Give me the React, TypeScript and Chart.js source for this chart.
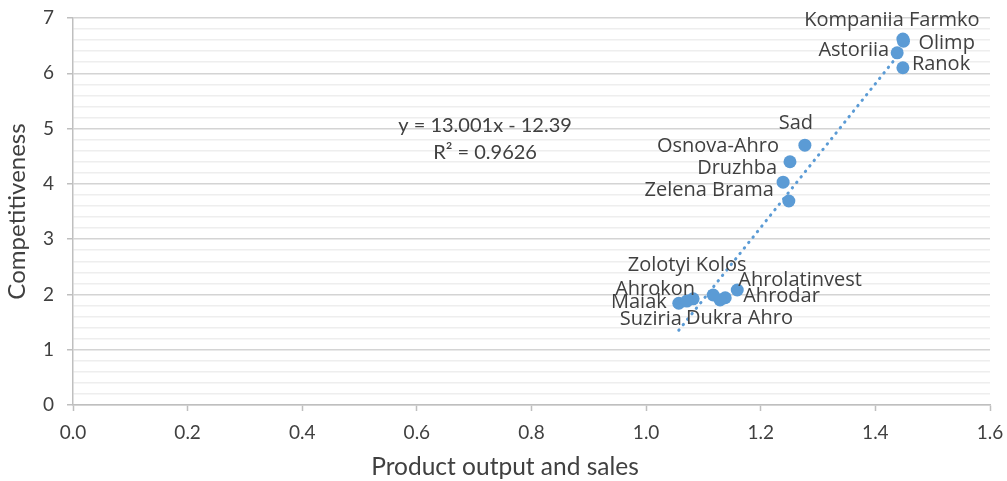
import React, { useEffect, useRef } from "react";
import { Chart, registerables } from "chart.js";

Chart.register(...registerables);

// ---------- data ----------
const companies = [
  "Kompaniia Farmko",
  "Olimp",
  "Astoriia",
  "Ranok",
  "Sad",
  "Osnova-Ahro",
  "Druzhba",
  "Zelena Brama",
  "Zolotyi Kolos",
  "Ahrolatinvest",
  "Ahrokon",
  "Ahrodar",
  "Maiak",
  "Dukra Ahro",
  "Suziria",
];
const outputSales = [1.448, 1.449, 1.438, 1.448, 1.277, 1.251, 1.239, 1.249, 1.117, 1.159, 1.082, 1.138, 1.057, 1.129, 1.071];
const competitiveness = [6.62, 6.58, 6.37, 6.1, 4.7, 4.4, 4.03, 3.69, 1.99, 2.08, 1.92, 1.94, 1.84, 1.9, 1.88];

const xTickValues = [0, 0.2, 0.4, 0.6, 0.8, 1.0, 1.2, 1.4, 1.6];
const yTickValues = [0, 1, 2, 3, 4, 5, 6, 7];

const trendSlope = 13.001;
const trendIntercept = -12.39;
const equationLines = ["y = 13.001x - 12.39", "R\u00B2 = 0.9626"];

const xTitle = "Product output and sales";
const yTitle = "Competitiveness";

// ---------- styles / label layout ----------
const BLUE = "#5B9BD5";
const TEXT = "#404040";
const LABEL_FONT = '20px "Open Sans"';
const EQ_FONT = "20px Lato";
const X_TITLE_FONT = "24.5px Lato";

const labelLayout: Record<string, { align: CanvasTextAlign; dx: number; dy: number }> = {
  "Kompaniia Farmko": { align: "center", dx: -11, dy: -19 },
  Olimp: { align: "left", dx: 15, dy: 2 },
  Astoriia: { align: "right", dx: -8, dy: -3 },
  Ranok: { align: "left", dx: 9, dy: -3 },
  Sad: { align: "center", dx: -9, dy: -22 },
  "Osnova-Ahro": { align: "right", dx: -11, dy: -15 },
  Druzhba: { align: "right", dx: -6, dy: -14 },
  "Zelena Brama": { align: "right", dx: -15, dy: -11 },
  "Zolotyi Kolos": { align: "center", dx: -26, dy: -30 },
  Ahrolatinvest: { align: "left", dx: 1, dy: -10 },
  Ahrokon: { align: "right", dx: 2, dy: -10 },
  Ahrodar: { align: "left", dx: 18, dy: -1 },
  Maiak: { align: "right", dx: -12, dy: -1 },
  "Dukra Ahro": { align: "left", dx: -34, dy: 18 },
  Suziria: { align: "right", dx: -5, dy: 18 },
};

const isMajor = (v: number) => Math.abs(v - Math.round(v)) < 1e-6;

const zeroPadding = (s: any) => {
  s.paddingTop = 0;
  s.paddingBottom = 0;
  s.paddingLeft = 0;
  s.paddingRight = 0;
};

const labelsPlugin = {
  id: "pointLabels",
  afterDatasetsDraw(chart: any) {
    const ctx = chart.ctx;
    const meta = chart.getDatasetMeta(1);
    ctx.save();
    ctx.font = LABEL_FONT;
    ctx.fillStyle = TEXT;
    ctx.textBaseline = "middle";
    meta.data.forEach((el: any, i: number) => {
      const name = companies[i];
      const l = labelLayout[name] || { align: "left", dx: 8, dy: 0 };
      ctx.textAlign = l.align;
      ctx.fillText(name, el.x + l.dx, el.y + l.dy);
    });
    // trendline equation
    const xs = chart.scales.x;
    const ys = chart.scales.y;
    const cx = xs.getPixelForValue(0.719);
    const cy = ys.getPixelForValue(5.06);
    ctx.font = EQ_FONT;
    ctx.textAlign = "center";
    equationLines.forEach((t, i) => ctx.fillText(t, cx, cy + i * 27));
    // x axis title, centred on the canvas
    ctx.font = X_TITLE_FONT;
    ctx.fillText(xTitle, 505, chart.height - 14);
    ctx.restore();
  },
};

export default function App() {
  const ref = useRef<HTMLCanvasElement | null>(null);
  useEffect(() => {
    if (!ref.current) return;
    const minX = Math.min(...outputSales);
    const maxX = Math.max(...outputSales);
    const trend = [minX, maxX].map((x) => ({ x, y: trendSlope * x + trendIntercept }));
    const points = outputSales.map((x, i) => ({ x, y: competitiveness[i] }));
    const chart = new Chart(ref.current, {
      type: "scatter",
      data: {
        datasets: [
          {
            label: "Trend",
            data: trend,
            showLine: true,
            borderColor: BLUE,
            borderWidth: 3,
            borderDash: [0.5, 6.5],
            borderCapStyle: "round",
            pointRadius: 0,
            order: 0,
          } as any,
          {
            label: "Companies",
            data: points,
            backgroundColor: BLUE,
            borderColor: BLUE,
            pointRadius: 6.5,
            pointBorderWidth: 0,
            order: 1,
          },
        ],
      },
      options: {
        responsive: false,
        animation: false,
        layout: { padding: { top: 18, right: 17, left: 0, bottom: 0 } },
        plugins: { legend: { display: false }, tooltip: { enabled: false }, title: { display: false } },
        scales: {
          x: {
            type: "linear",
            min: 0,
            max: 1.6,
            afterFit: (s: any) => {
              s.height = 76;
              zeroPadding(s);
            },
            afterBuildTicks: (s: any) => {
              s.ticks = xTickValues.map((v) => ({ value: v }));
            },
            ticks: {
              autoSkip: false,
              maxRotation: 0,
              padding: 10,
              color: TEXT,
              font: { family: "Lato", size: 19 },
              callback: (v: any) => Number(v).toFixed(1),
            },
            grid: {
              drawOnChartArea: false,
              drawTicks: true,
              tickLength: 6,
              tickColor: "#bfbfbf",
              tickWidth: 1.5,
            },
            border: { color: "#bfbfbf", width: 1.5 },
            title: { display: false, text: xTitle },
          },
          y: {
            type: "linear",
            min: 0,
            max: 7,
            afterFit: (s: any) => {
              s.width = 73;
              zeroPadding(s);
            },
            afterBuildTicks: (s: any) => {
              const t: any[] = [];
              for (let i = 0; i <= 35; i++) t.push({ value: Math.round(i * 2) / 10 });
              s.ticks = t;
            },
            ticks: {
              autoSkip: false,
              padding: 13,
              color: TEXT,
              font: { family: "Lato", size: 19 },
              callback: (v: any) =>
                isMajor(Number(v)) && yTickValues.includes(Math.round(Number(v))) ? String(Math.round(Number(v))) : "",
            },
            grid: {
              drawTicks: true,
              tickLength: 6,
              lineWidth: 1.5,
              color: (c: any) => (c.tick && isMajor(c.tick.value) ? "#d4d4d4" : "#eeeeee"),
              tickColor: (c: any) => (c.tick && isMajor(c.tick.value) ? "#bfbfbf" : "rgba(0,0,0,0)"),
            },
            border: { color: "#bfbfbf", width: 1.5 },
            title: {
              display: true,
              text: yTitle,
              color: TEXT,
              font: { family: "Lato", size: 24, lineHeight: 1.2 },
              padding: { top: 3, bottom: 0 },
            },
          },
        },
      },
      plugins: [labelsPlugin],
    });
    return () => chart.destroy();
  }, []);
  return (
    <div style={{ position: "fixed", left: 0, top: 0, width: 1007, height: 481, background: "#fff" }}>
      <canvas ref={ref} width={1007} height={481} />
    </div>
  );
}
